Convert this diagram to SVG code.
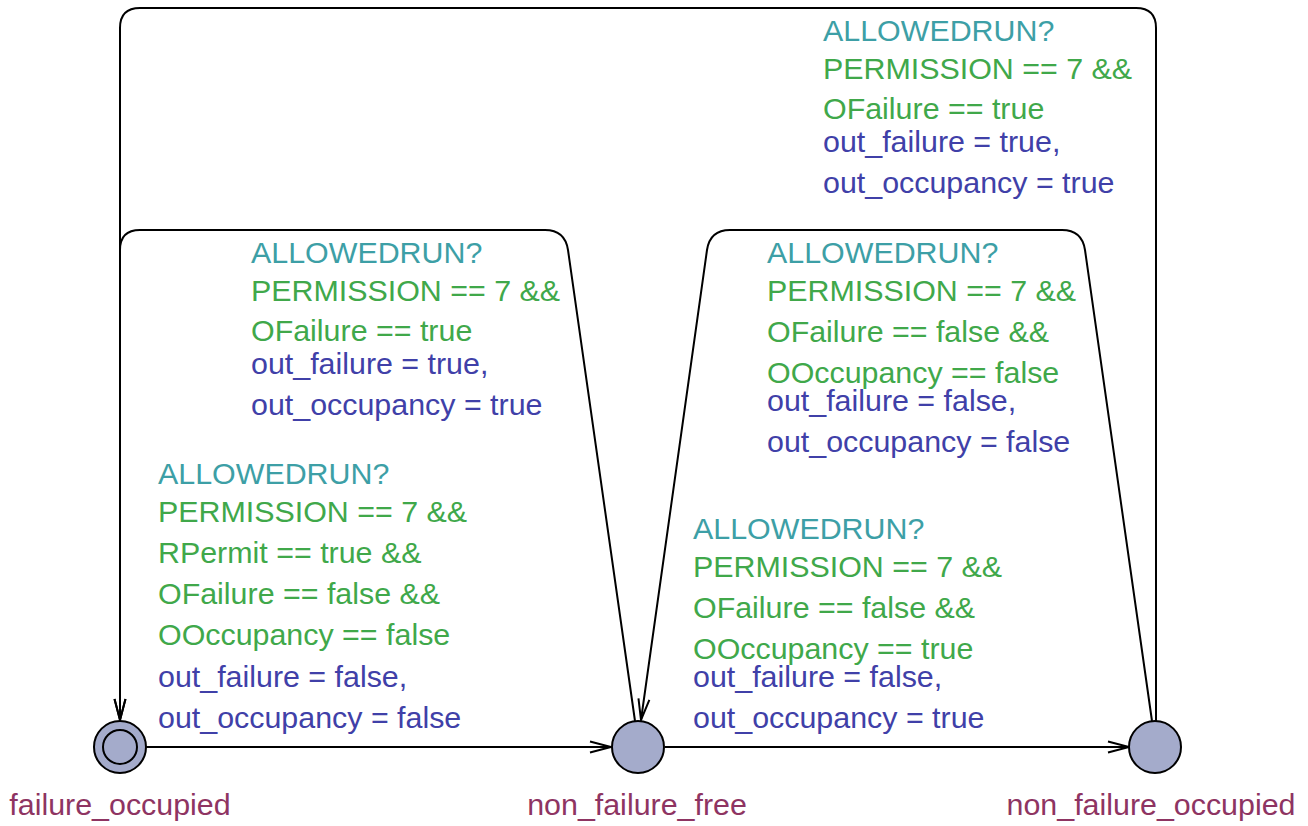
<svg xmlns="http://www.w3.org/2000/svg" width="1308" height="826" viewBox="0 0 1308 826">
<style>
text{font-family:"Liberation Sans",Arial,sans-serif;font-size:30.4px}
.sync{fill:#3d9fa6}
.guard{fill:#40a84a}
.upd{fill:#4040a8}
.name{fill:#8e3462}
.loc{fill:#a4abcb;stroke:#000;stroke-width:2}
.edge{fill:none;stroke:#000;stroke-width:2;marker-end:url(#arr)}
</style>
<defs>
<marker id="arr" viewBox="-23 -8 25 16" refX="0" refY="0" markerWidth="25" markerHeight="16" markerUnits="userSpaceOnUse" orient="auto">
<path d="M-21,-5.5 L0,0 L-21,5.5" fill="none" stroke="#000" stroke-width="2"/>
</marker>
</defs>
<rect width="1308" height="826" fill="#fff"/>
<g id="connectors">
<path class="edge" d="M146,747 L611,747"/>
<path class="edge" d="M665,747 L1129,747"/>
<path class="edge" d="M1156,721 L1156,28 Q1156,8 1136,8 L140,8 Q120,8 120,28 L120,720"/>
<path class="edge" d="M635,721 L568,250 Q565,230 545,230 L140,230 Q120,230 120,250 L120,720"/>
<path class="edge" d="M1152,721 L1085,250 Q1082,230 1062,230 L730,230 Q710,230 707,250 L641,720"/>
</g>
<g id="label-n3-n1">
<text class="sync" x="823" y="41">ALLOWEDRUN?</text>
<text class="guard" x="823" y="79">PERMISSION == 7 &amp;&amp;</text>
<text class="guard" x="823" y="119">OFailure == true</text>
<text class="upd" x="823" y="152">out_failure = true,</text>
<text class="upd" x="823" y="193">out_occupancy = true</text>
</g>
<g id="label-n2-n1">
<text class="sync" x="251" y="263">ALLOWEDRUN?</text>
<text class="guard" x="251" y="301">PERMISSION == 7 &amp;&amp;</text>
<text class="guard" x="251" y="341">OFailure == true</text>
<text class="upd" x="251" y="374">out_failure = true,</text>
<text class="upd" x="251" y="415">out_occupancy = true</text>
</g>
<g id="label-n3-n2">
<text class="sync" x="767" y="263">ALLOWEDRUN?</text>
<text class="guard" x="767" y="301">PERMISSION == 7 &amp;&amp;</text>
<text class="guard" x="767" y="342">OFailure == false &amp;&amp;</text>
<text class="guard" x="767" y="383">OOccupancy == false</text>
<text class="upd" x="767" y="411">out_failure = false,</text>
<text class="upd" x="767" y="452">out_occupancy = false</text>
</g>
<g id="label-n1-n2">
<text class="sync" x="158" y="484">ALLOWEDRUN?</text>
<text class="guard" x="158" y="522">PERMISSION == 7 &amp;&amp;</text>
<text class="guard" x="158" y="563">RPermit == true &amp;&amp;</text>
<text class="guard" x="158" y="604">OFailure == false &amp;&amp;</text>
<text class="guard" x="158" y="645">OOccupancy == false</text>
<text class="upd" x="158" y="687">out_failure = false,</text>
<text class="upd" x="158" y="728">out_occupancy = false</text>
</g>
<g id="label-n2-n3">
<text class="sync" x="693" y="539">ALLOWEDRUN?</text>
<text class="guard" x="693" y="577">PERMISSION == 7 &amp;&amp;</text>
<text class="guard" x="693" y="618">OFailure == false &amp;&amp;</text>
<text class="guard" x="693" y="659">OOccupancy == true</text>
<text class="upd" x="693" y="687">out_failure = false,</text>
<text class="upd" x="693" y="728">out_occupancy = true</text>
</g>
<g id="failure_occupied">
<circle class="loc" cx="120" cy="747" r="26"/>
<circle class="loc" cx="120" cy="747" r="17"/>
<text class="name" x="120" y="815" text-anchor="middle">failure_occupied</text>
</g>
<g id="non_failure_free">
<circle class="loc" cx="638" cy="747" r="26"/>
<text class="name" x="637" y="815" text-anchor="middle">non_failure_free</text>
</g>
<g id="non_failure_occupied">
<circle class="loc" cx="1155" cy="747" r="26"/>
<text class="name" x="1151" y="815" text-anchor="middle">non_failure_occupied</text>
</g>
</svg>
